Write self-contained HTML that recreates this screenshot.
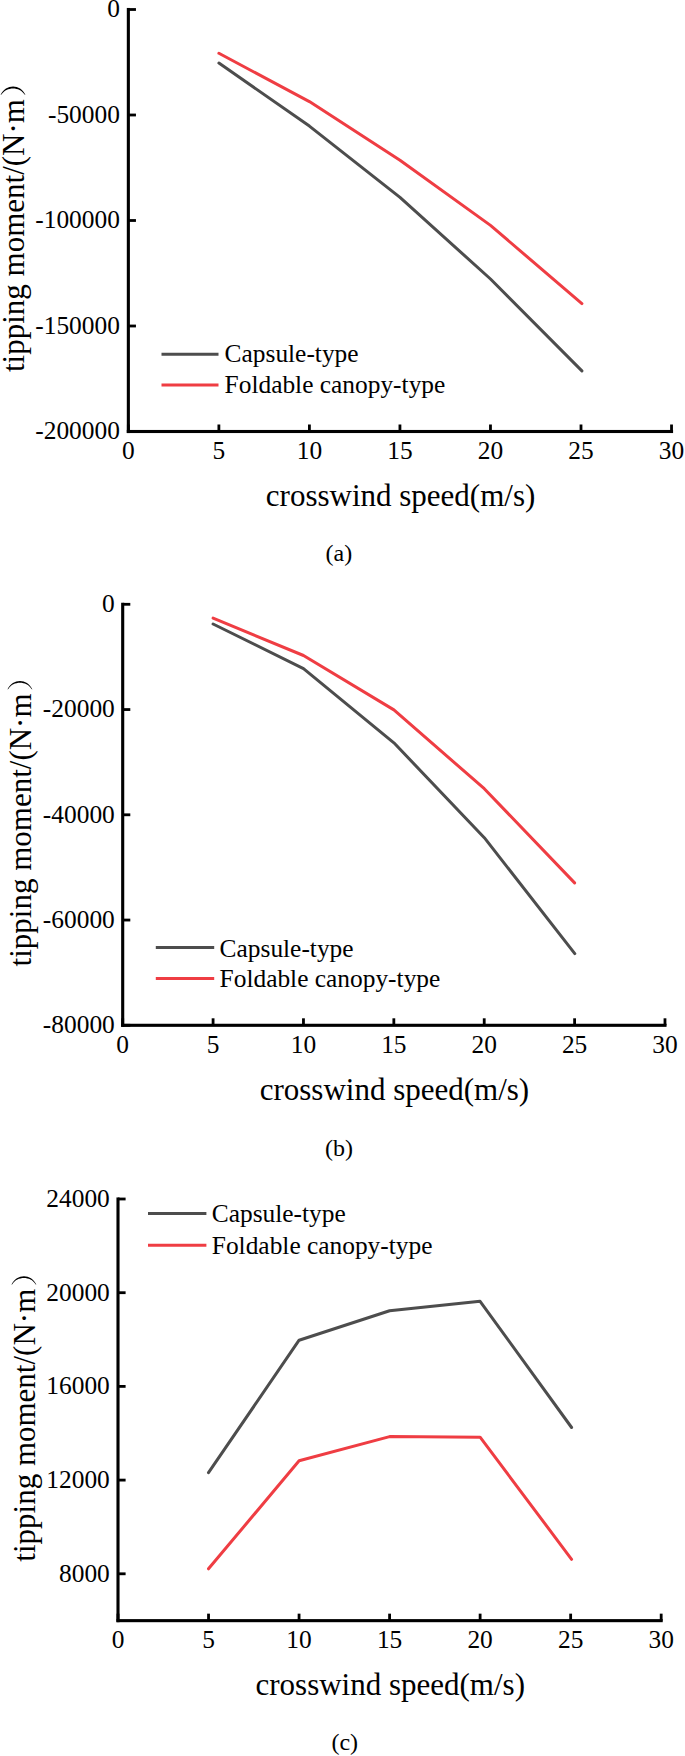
<!DOCTYPE html>
<html><head><meta charset="utf-8"><title>tipping moment charts</title>
<style>
html,body{margin:0;padding:0;background:#fff;}
svg{display:block;}
text{font-family:"Liberation Serif",serif;fill:#000;}
</style></head><body>
<svg width="685" height="1756" viewBox="0 0 685 1756">
<rect x="0" y="0" width="685" height="1756" fill="#fff"/>
<g>
<rect x="126.80" y="7.95" width="3.1" height="425.10" fill="#000"/>
<rect x="126.80" y="429.95" width="546.28" height="3.1" fill="#000"/>
<rect x="128.35" y="8.10" width="7.60" height="2.8" fill="#000"/>
<rect x="128.35" y="113.60" width="7.60" height="2.8" fill="#000"/>
<rect x="128.35" y="219.10" width="7.60" height="2.8" fill="#000"/>
<rect x="128.35" y="324.60" width="7.60" height="2.8" fill="#000"/>
<rect x="128.35" y="430.10" width="7.60" height="2.8" fill="#000"/>
<rect x="126.95" y="424.50" width="2.8" height="7.00" fill="#000"/>
<rect x="217.48" y="424.50" width="2.8" height="7.00" fill="#000"/>
<rect x="308.01" y="424.50" width="2.8" height="7.00" fill="#000"/>
<rect x="398.54" y="424.50" width="2.8" height="7.00" fill="#000"/>
<rect x="489.07" y="424.50" width="2.8" height="7.00" fill="#000"/>
<rect x="579.60" y="424.50" width="2.8" height="7.00" fill="#000"/>
<rect x="670.13" y="424.50" width="2.8" height="7.00" fill="#000"/>
<text x="119.90" y="17.30" font-size="25.4" text-anchor="end">0</text>
<text x="119.90" y="122.80" font-size="25.4" text-anchor="end">-50000</text>
<text x="119.90" y="228.30" font-size="25.4" text-anchor="end">-100000</text>
<text x="119.90" y="333.80" font-size="25.4" text-anchor="end">-150000</text>
<text x="119.90" y="439.30" font-size="25.4" text-anchor="end">-200000</text>
<text x="128.35" y="459.30" font-size="25.4" text-anchor="middle">0</text>
<text x="218.88" y="459.30" font-size="25.4" text-anchor="middle">5</text>
<text x="309.41" y="459.30" font-size="25.4" text-anchor="middle">10</text>
<text x="399.94" y="459.30" font-size="25.4" text-anchor="middle">15</text>
<text x="490.47" y="459.30" font-size="25.4" text-anchor="middle">20</text>
<text x="581.00" y="459.30" font-size="25.4" text-anchor="middle">25</text>
<text x="671.53" y="459.30" font-size="25.4" text-anchor="middle">30</text>
<polyline points="218.9,63.1 309.4,126.1 400.0,197.4 490.5,279.0 581.9,370.9" fill="none" stroke="#4d4d4d" stroke-width="3.0" stroke-linejoin="round" stroke-linecap="round"/>
<polyline points="218.9,53.3 309.4,101.6 400.0,160.2 490.5,225.4 581.9,303.6" fill="none" stroke="#ef3d43" stroke-width="3.0" stroke-linejoin="round" stroke-linecap="round"/>
<line x1="161.5" y1="354.2" x2="218.5" y2="354.2" stroke="#4d4d4d" stroke-width="3.0"/>
<line x1="161.5" y1="385.0" x2="218.5" y2="385.0" stroke="#ef3d43" stroke-width="3.0"/>
<text x="224.6" y="361.7" font-size="25.4">Capsule-type</text>
<text x="224.6" y="393.0" font-size="25.4">Foldable canopy-type</text>
<text x="265.80" y="506.2" font-size="31">crosswind speed(m/s)</text>
<g transform="translate(24.1,372) rotate(-90)"><text x="0" y="0" font-size="31">tipping moment/(N·m</text><path d="M276.9,-23.6 C288.2,-18 288.2,-4 276.9,1.4 L277.5,0.5 C285.6,-4.5 285.6,-17.5 277.5,-22.7 Z" fill="#000"/></g>
<text x="325.50" y="561.1" font-size="24">(a)</text>
</g>
<g>
<rect x="121.15" y="602.75" width="3.1" height="424.10" fill="#000"/>
<rect x="121.15" y="1023.75" width="545.38" height="3.1" fill="#000"/>
<rect x="122.70" y="602.90" width="7.60" height="2.8" fill="#000"/>
<rect x="122.70" y="708.15" width="7.60" height="2.8" fill="#000"/>
<rect x="122.70" y="813.40" width="7.60" height="2.8" fill="#000"/>
<rect x="122.70" y="918.65" width="7.60" height="2.8" fill="#000"/>
<rect x="122.70" y="1023.90" width="7.60" height="2.8" fill="#000"/>
<rect x="121.30" y="1018.30" width="2.8" height="7.00" fill="#000"/>
<rect x="211.68" y="1018.30" width="2.8" height="7.00" fill="#000"/>
<rect x="302.06" y="1018.30" width="2.8" height="7.00" fill="#000"/>
<rect x="392.44" y="1018.30" width="2.8" height="7.00" fill="#000"/>
<rect x="482.82" y="1018.30" width="2.8" height="7.00" fill="#000"/>
<rect x="573.20" y="1018.30" width="2.8" height="7.00" fill="#000"/>
<rect x="663.58" y="1018.30" width="2.8" height="7.00" fill="#000"/>
<text x="114.80" y="612.10" font-size="25.4" text-anchor="end">0</text>
<text x="114.80" y="717.35" font-size="25.4" text-anchor="end">-20000</text>
<text x="114.80" y="822.60" font-size="25.4" text-anchor="end">-40000</text>
<text x="114.80" y="927.85" font-size="25.4" text-anchor="end">-60000</text>
<text x="114.80" y="1033.10" font-size="25.4" text-anchor="end">-80000</text>
<text x="122.70" y="1053.10" font-size="25.4" text-anchor="middle">0</text>
<text x="213.08" y="1053.10" font-size="25.4" text-anchor="middle">5</text>
<text x="303.46" y="1053.10" font-size="25.4" text-anchor="middle">10</text>
<text x="393.84" y="1053.10" font-size="25.4" text-anchor="middle">15</text>
<text x="484.22" y="1053.10" font-size="25.4" text-anchor="middle">20</text>
<text x="574.60" y="1053.10" font-size="25.4" text-anchor="middle">25</text>
<text x="664.98" y="1053.10" font-size="25.4" text-anchor="middle">30</text>
<polyline points="213.1,624.0 303.5,668.6 393.9,742.8 484.3,837.7 574.8,953.6" fill="none" stroke="#4d4d4d" stroke-width="3.0" stroke-linejoin="round" stroke-linecap="round"/>
<polyline points="213.1,618.1 303.5,655.5 393.9,709.9 484.3,788.7 574.6,882.9" fill="none" stroke="#ef3d43" stroke-width="3.0" stroke-linejoin="round" stroke-linecap="round"/>
<line x1="155.8" y1="947.4" x2="214.2" y2="947.4" stroke="#4d4d4d" stroke-width="3.0"/>
<line x1="155.8" y1="978.4" x2="214.2" y2="978.4" stroke="#ef3d43" stroke-width="3.0"/>
<text x="219.6" y="956.5" font-size="25.4">Capsule-type</text>
<text x="219.6" y="986.9" font-size="25.4">Foldable canopy-type</text>
<text x="259.70" y="1099.8" font-size="31">crosswind speed(m/s)</text>
<g transform="translate(31,966.4) rotate(-90)"><text x="0" y="0" font-size="31">tipping moment/(N·m</text><path d="M276.9,-23.6 C288.2,-18 288.2,-4 276.9,1.4 L277.5,0.5 C285.6,-4.5 285.6,-17.5 277.5,-22.7 Z" fill="#000"/></g>
<text x="325.10" y="1155.9" font-size="24">(b)</text>
</g>
<g>
<rect x="116.45" y="1197.45" width="3.1" height="424.75" fill="#000"/>
<rect x="116.45" y="1619.10" width="546.28" height="3.1" fill="#000"/>
<rect x="118.00" y="1197.60" width="7.60" height="2.8" fill="#000"/>
<rect x="118.00" y="1291.30" width="7.60" height="2.8" fill="#000"/>
<rect x="118.00" y="1385.00" width="7.60" height="2.8" fill="#000"/>
<rect x="118.00" y="1478.70" width="7.60" height="2.8" fill="#000"/>
<rect x="118.00" y="1572.40" width="7.60" height="2.8" fill="#000"/>
<rect x="116.60" y="1613.65" width="2.8" height="7.00" fill="#000"/>
<rect x="207.13" y="1613.65" width="2.8" height="7.00" fill="#000"/>
<rect x="297.66" y="1613.65" width="2.8" height="7.00" fill="#000"/>
<rect x="388.19" y="1613.65" width="2.8" height="7.00" fill="#000"/>
<rect x="478.72" y="1613.65" width="2.8" height="7.00" fill="#000"/>
<rect x="569.25" y="1613.65" width="2.8" height="7.00" fill="#000"/>
<rect x="659.78" y="1613.65" width="2.8" height="7.00" fill="#000"/>
<text x="109.80" y="1206.80" font-size="25.4" text-anchor="end">24000</text>
<text x="109.80" y="1300.50" font-size="25.4" text-anchor="end">20000</text>
<text x="109.80" y="1394.20" font-size="25.4" text-anchor="end">16000</text>
<text x="109.80" y="1487.90" font-size="25.4" text-anchor="end">12000</text>
<text x="109.80" y="1581.60" font-size="25.4" text-anchor="end">8000</text>
<text x="118.00" y="1648.45" font-size="25.4" text-anchor="middle">0</text>
<text x="208.53" y="1648.45" font-size="25.4" text-anchor="middle">5</text>
<text x="299.06" y="1648.45" font-size="25.4" text-anchor="middle">10</text>
<text x="389.59" y="1648.45" font-size="25.4" text-anchor="middle">15</text>
<text x="480.12" y="1648.45" font-size="25.4" text-anchor="middle">20</text>
<text x="570.65" y="1648.45" font-size="25.4" text-anchor="middle">25</text>
<text x="661.18" y="1648.45" font-size="25.4" text-anchor="middle">30</text>
<polyline points="208.5,1472.7 299.1,1340.2 389.6,1310.8 480.1,1301.3 571.6,1427.5" fill="none" stroke="#4d4d4d" stroke-width="3.0" stroke-linejoin="round" stroke-linecap="round"/>
<polyline points="208.5,1568.8 299.1,1460.8 389.6,1436.6 480.1,1437.2 571.6,1559.3" fill="none" stroke="#ef3d43" stroke-width="3.0" stroke-linejoin="round" stroke-linecap="round"/>
<line x1="148" y1="1213.4" x2="206.4" y2="1213.4" stroke="#4d4d4d" stroke-width="3.0"/>
<line x1="148" y1="1245.3" x2="206.4" y2="1245.3" stroke="#ef3d43" stroke-width="3.0"/>
<text x="211.8" y="1221.7" font-size="25.4">Capsule-type</text>
<text x="211.8" y="1253.7" font-size="25.4">Foldable canopy-type</text>
<text x="255.50" y="1695" font-size="31">crosswind speed(m/s)</text>
<g transform="translate(35,1561.7) rotate(-90)"><text x="0" y="0" font-size="31">tipping moment/(N·m</text><path d="M276.9,-23.6 C288.2,-18 288.2,-4 276.9,1.4 L277.5,0.5 C285.6,-4.5 285.6,-17.5 277.5,-22.7 Z" fill="#000"/></g>
<text x="331.40" y="1750" font-size="24">(c)</text>
</g>
</svg>
</body></html>
